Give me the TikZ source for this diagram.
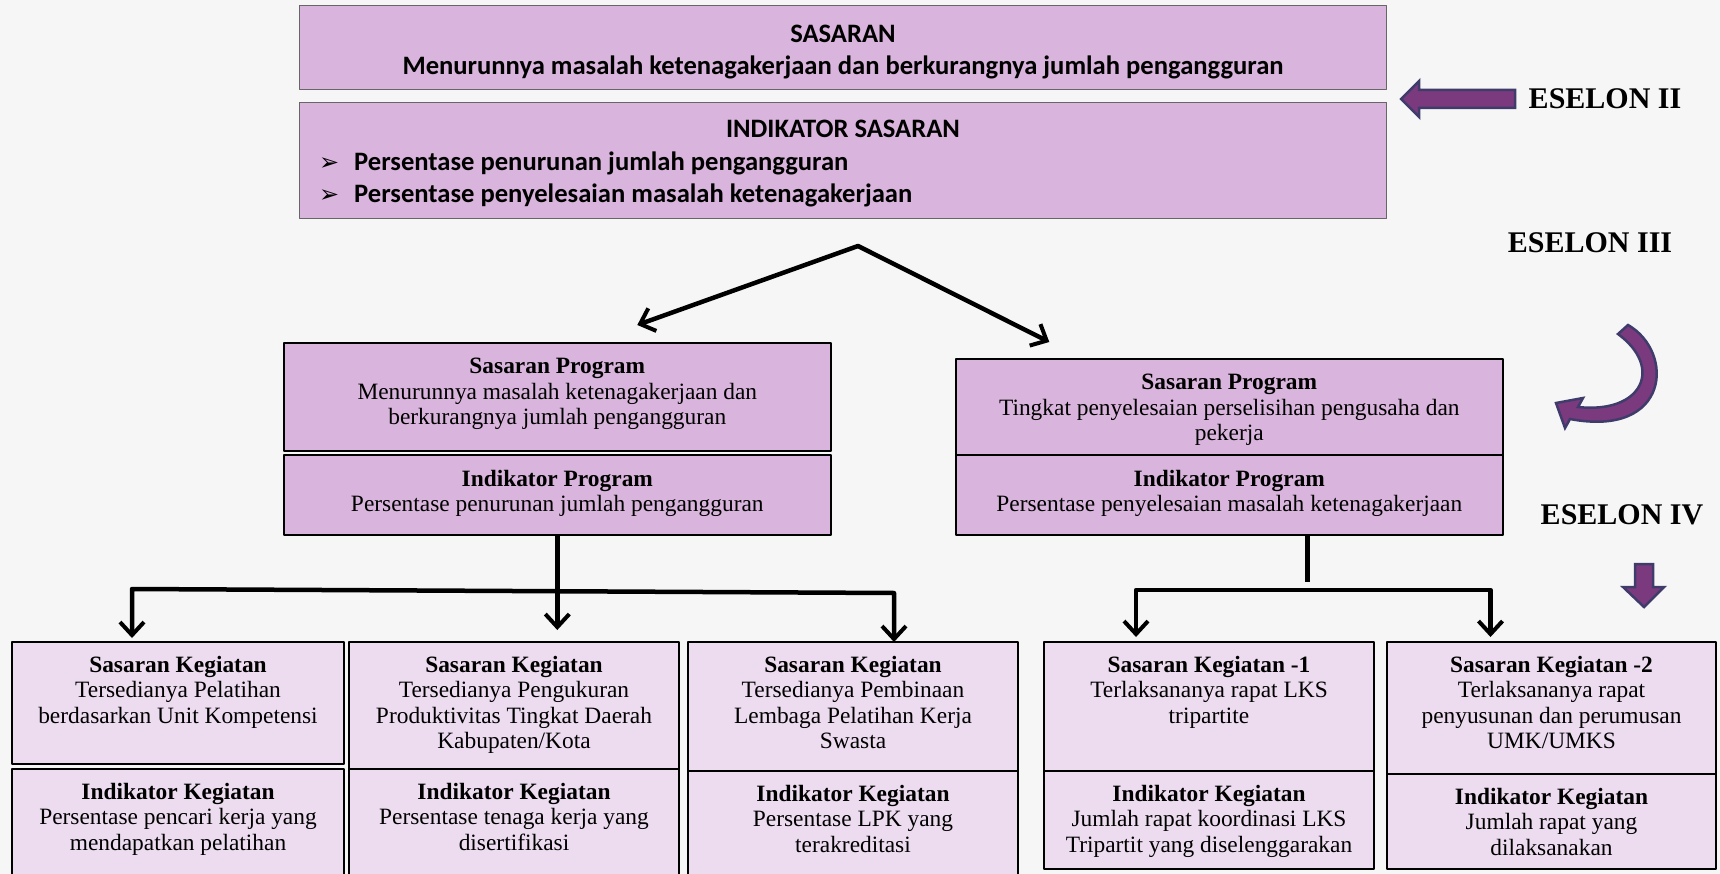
\documentclass[tikz,border=0pt]{standalone}
\usepackage{fontspec}
\setmainfont{Liberation Serif}
\newfontfamily\calibri{Carlito}
\newfontfamily\dejavu{DejaVu Sans}
\usetikzlibrary{positioning,arrows.meta}

\definecolor{bgcol}{HTML}{F6F6F6}
\definecolor{boxplum}{HTML}{D9B4DC}
\definecolor{boxlight}{HTML}{EDDCEF}
\definecolor{arrowpurple}{HTML}{7B3A7E}
\definecolor{arrowedge}{HTML}{3F3C6C}

\tikzset{
  topbox/.style={draw=black!60, line width=1pt, fill=boxplum, anchor=north west, inner sep=0},
  progbox/.style={draw=black, line width=1.6pt, fill=boxplum, anchor=north west, inner sep=0},
  kegbox/.style={draw=black, line width=2pt, fill=boxlight, anchor=north west, inner sep=0},
  toptxt/.style={font=\calibri\bfseries\fontsize{26.6}{32}\selectfont, inner sep=0, align=center},
  boxtxt/.style={font=\fontsize{23.4}{25.5}\selectfont, inner sep=0, align=center},
  eselon/.style={font=\bfseries\fontsize{30}{32}\selectfont, inner sep=0},
  barb/.tip={Straight Barb[length=13pt,width=24pt,line width=4pt]},
  conn/.style={line width=4.5pt, -barb},
  conntwo/.style={line width=4.5pt, barb-barb},
  blockarrow/.style={fill=arrowpurple, draw=arrowedge, line width=2.5pt, line join=miter}
}

\begin{document}
\begin{tikzpicture}[x=1pt, y=-1pt, line join=round]
    \useasboundingbox (0,0) rectangle (1720,874);
    \fill[bgcol] (0,0) rectangle (1720,874);
    \clip (0,0) rectangle (1720,874);

    % Eselon II
    \node[topbox, minimum width=1087pt, minimum height=83.5pt] (ss) at (299,5.5) {};
    \node[toptxt] (sst) at ([yshift=-4pt]ss.center) {SASARAN\\Menurunnya masalah ketenagakerjaan dan berkurangnya jumlah pengangguran};
    \node[topbox, minimum width=1087pt, minimum height=116pt] (is) at (299,102) {};
    \node[toptxt, below=18pt of is.north] (ist) {INDIKATOR SASARAN};
    \node[toptxt, align=left, anchor=west] (isl) at (319,179)
        {\makebox[35pt][l]{\dejavu\mdseries\fontsize{24}{32}\selectfont ➢}Persentase penurunan jumlah pengangguran\\
         \makebox[35pt][l]{\dejavu\mdseries\fontsize{24}{32}\selectfont ➢}Persentase penyelesaian masalah ketenagakerjaan};

    % Eselon III
    \node[progbox, minimum width=547pt, minimum height=108pt] (sp1) at (283,342) {};
    \node[boxtxt, below=16pt of sp1.north] (sp1t) {\textbf{Sasaran Program}\\Menurunnya masalah ketenagakerjaan dan\\berkurangnya jumlah pengangguran};
    \node[progbox, minimum width=547pt, minimum height=80pt] (ip1) at (283,454) {};
    \node[boxtxt, below=16pt of ip1.north] (ip1t) {\textbf{Indikator Program}\\Persentase penurunan jumlah pengangguran};

    \node[progbox, minimum width=547pt, minimum height=96pt] (sp2) at (955,358) {};
    \node[boxtxt, below=16pt of sp2.north] (sp2t) {\textbf{Sasaran Program}\\Tingkat penyelesaian perselisihan pengusaha dan\\pekerja};
    \node[progbox, minimum width=547pt, minimum height=80pt] (ip2) at (955,454) {};
    \node[boxtxt, below=16pt of ip2.north] (ip2t) {\textbf{Indikator Program}\\Persentase penyelesaian masalah ketenagakerjaan};

    % Eselon IV
    \node[kegbox, minimum width=332pt, minimum height=122pt] (sk1) at (11,641) {};
    \node[boxtxt, below=15pt of sk1.north] (sk1t) {\textbf{Sasaran Kegiatan}\\Tersedianya Pelatihan\\berdasarkan Unit Kompetensi};
    \node[kegbox, minimum width=332pt, minimum height=130pt] (ik1) at (11,768) {};
    \node[boxtxt, below=15pt of ik1.north] (ik1t) {\textbf{Indikator Kegiatan}\\Persentase pencari kerja yang\\mendapatkan pelatihan};

    \node[kegbox, minimum width=330pt, minimum height=127pt] (sk2) at (348,641) {};
    \node[boxtxt, below=15pt of sk2.north] (sk2t) {\textbf{Sasaran Kegiatan}\\Tersedianya Pengukuran\\Produktivitas Tingkat Daerah\\Kabupaten/Kota};
    \node[kegbox, minimum width=330pt, minimum height=130pt] (ik2) at (348,768) {};
    \node[boxtxt, below=15pt of ik2.north] (ik2t) {\textbf{Indikator Kegiatan}\\Persentase tenaga kerja yang\\disertifikasi};

    \node[kegbox, minimum width=330pt, minimum height=129pt] (sk3) at (687,641) {};
    \node[boxtxt, below=15pt of sk3.north] (sk3t) {\textbf{Sasaran Kegiatan}\\Tersedianya Pembinaan\\Lembaga Pelatihan Kerja\\Swasta};
    \node[kegbox, minimum width=330pt, minimum height=130pt] (ik3) at (687,770) {};
    \node[boxtxt, below=15pt of ik3.north] (ik3t) {\textbf{Indikator Kegiatan}\\Persentase LPK yang\\terakreditasi};

    \node[kegbox, minimum width=330pt, minimum height=129pt] (sk4) at (1043,641) {};
    \node[boxtxt, below=15pt of sk4.north] (sk4t) {\textbf{Sasaran Kegiatan -1}\\Terlaksananya rapat LKS\\tripartite};
    \node[kegbox, minimum width=330pt, minimum height=98pt] (ik4) at (1043,770) {};
    \node[boxtxt, below=15pt of ik4.north] (ik4t) {\textbf{Indikator Kegiatan}\\Jumlah rapat koordinasi LKS\\Tripartit yang diselenggarakan};

    \node[kegbox, minimum width=329pt, minimum height=132pt] (sk5) at (1386,641) {};
    \node[boxtxt, below=15pt of sk5.north] (sk5t) {\textbf{Sasaran Kegiatan -2}\\Terlaksananya rapat\\penyusunan dan perumusan\\UMK/UMKS};
    \node[kegbox, minimum width=329pt, minimum height=95pt] (ik5) at (1386,773) {};
    \node[boxtxt, below=15pt of ik5.north] (ik5t) {\textbf{Indikator Kegiatan}\\Jumlah rapat yang\\dilaksanakan};

    % Panah penghubung
    \coordinate (split) at (858,246);
    \coordinate (sp1in) at ([xshift=80pt, yshift=17pt]sp1.north);
    \coordinate (sp2in) at ([xshift=-180pt, yshift=16pt]sp2.north);
    \draw[conntwo] (sp1in) -- (split) -- (sp2in);

    \coordinate (sk1in) at ([xshift=-46pt, yshift=3pt]sk1.north);
    \coordinate (sk2in) at ([yshift=11pt]ip1.south |- sk2.north);
    \coordinate (sk3in) at ([xshift=41pt, yshift=-1pt]sk3.north);
    \draw[conntwo] (sk1in) -- (sk1in |- 0,589) -- (sk3in |- 0,593) -- (sk3in);
    \draw[conn] (ip1.south) -- (sk2in);

    \coordinate (stub) at ([xshift=78pt]ip2.south |- 0,582);
    \draw[line width=4.5pt] ([xshift=78pt]ip2.south) -- (stub);
    \coordinate (sk4in) at ([xshift=-73pt, yshift=4pt]sk4.north);
    \coordinate (sk5in) at ([xshift=-61pt, yshift=4pt]sk5.north);
    \draw[conntwo] (sk4in) -- (sk4in |- 0,590) -- (sk5in |- 0,590) -- (sk5in);

    % Label eselon
    \node[eselon] (e2) at (1605,99) {ESELON II};
    \node[eselon] (e3) at (1590,243) {ESELON III};
    \node[eselon] (e4) at (1622,515) {ESELON IV};

    % Panah blok
    \draw[blockarrow] (1515,90) -- (1419,90) -- (1419,81) -- (1401,99) -- (1419,117) -- (1419,108) -- (1515,108) -- cycle;
    \draw[blockarrow] (1635,564) -- (1653,564) -- (1653,587) -- (1664,587) -- (1644,607) -- (1623,587) -- (1635,587) -- cycle;
    \draw[blockarrow] (1556,403) -- (1583,398) -- (1578,407)
        .. controls (1642,414) and (1664,368) .. (1618,334) -- (1628,325)
        .. controls (1675,352) and (1670,438) .. (1570,419) -- (1565,428) -- cycle;
\end{tikzpicture}
\end{document}
